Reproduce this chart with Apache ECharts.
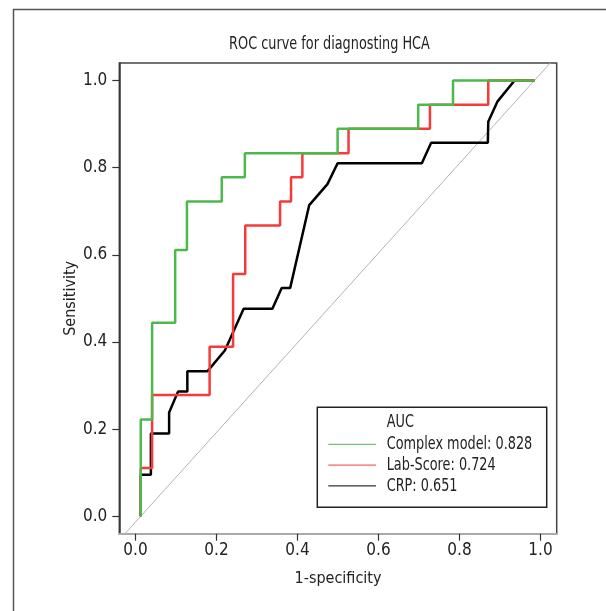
<!DOCTYPE html>
<html>
<head>
<meta charset="utf-8">
<script src="https://cdn.jsdelivr.net/npm/echarts@6/dist/echarts.min.js"></script>
<style>
  html, body { margin: 0; padding: 0; background: #fff; }
  #chart { width: 606px; height: 611px; }
</style>
</head>
<body>
<div id="chart"></div>
<script>
const FONT = "'DejaVu Sans Condensed', 'Liberation Sans', sans-serif";

const titleText = "ROC curve for diagnosting HCA";
const tickValues = [0, 0.2, 0.4, 0.6, 0.8, 1.0];

// ROC points (1-specificity, sensitivity)
const complexFpr = [0.013, 0.013, 0.041, 0.041, 0.098, 0.098, 0.127, 0.127, 0.213, 0.213, 0.270, 0.270, 0.499, 0.499, 0.698, 0.698, 0.784, 0.784, 0.985];
const complexTpr = [0, 0.222, 0.222, 0.444, 0.444, 0.611, 0.611, 0.722, 0.722, 0.778, 0.778, 0.833, 0.833, 0.889, 0.889, 0.944, 0.944, 1, 1];

const labFpr = [0.013, 0.013, 0.041, 0.041, 0.183, 0.183, 0.241, 0.241, 0.271, 0.271, 0.357, 0.357, 0.384, 0.384, 0.412, 0.412, 0.526, 0.526, 0.727, 0.727, 0.871, 0.871, 0.985];
const labTpr = [0, 0.111, 0.111, 0.278, 0.278, 0.389, 0.389, 0.556, 0.556, 0.667, 0.667, 0.722, 0.722, 0.778, 0.778, 0.833, 0.833, 0.889, 0.889, 0.944, 0.944, 1, 1];

const crpFpr = [0.013, 0.013, 0.038, 0.038, 0.083, 0.083, 0.105, 0.128, 0.128, 0.178, 0.221, 0.267, 0.338, 0.361, 0.382, 0.429, 0.474, 0.499, 0.707, 0.730, 0.870, 0.871, 0.894, 0.936, 0.985];
const crpTpr = [0, 0.095, 0.095, 0.190, 0.190, 0.238, 0.286, 0.286, 0.333, 0.333, 0.381, 0.476, 0.476, 0.524, 0.524, 0.714, 0.762, 0.810, 0.810, 0.857, 0.857, 0.905, 0.952, 1, 1];

const refX = [-0.026, 1.024];
const refY = [-0.04, 1.04];

const legendTitle = "AUC";
const seriesNames = ["Complex model: 0.828", "Lab-Score: 0.724", "CRP: 0.651"];
const seriesColors = ["#4cb94c", "#f53a3a", "#000000"];

const pairs = (xs, ys) => xs.map((x, i) => [x, ys[i]]);

const chart = echarts.init(document.getElementById("chart"), null, { renderer: "canvas" });

// condensed look: the reference uses a narrow face, squeeze DejaVu a bit
const SQUEEZE = 0.84;
const textFont = "17px " + FONT;

const axisCommon = {
  type: "value",
  min: -0.04,
  max: 1.04,
  nameLocation: "middle",
  nameMoveOverlap: false,
  nameTextStyle: { fontFamily: FONT, fontSize: 16, color: "#222" },
  splitLine: { show: false },
  axisTick: { show: true, inside: false, length: 7, customValues: tickValues, lineStyle: { color: "#333", width: 1.2 } },
  axisLabel: {
    customValues: tickValues,
    fontFamily: FONT,
    fontSize: 17,
    color: "#222",
    formatter: (v) => v.toFixed(1),
  },
};

// legend drawn as a small boxed key like the original
const legendX = 317.3, legendY = 407.3;
const legendGraphics = [
  { type: "rect", shape: { x: legendX, y: legendY, width: 229.4, height: 100 }, style: { fill: "none", stroke: "#222", lineWidth: 1.5 }, z: 10 },
  { type: "text", x: legendX + 69.4, y: legendY + 15.2, scaleX: SQUEEZE, style: { text: legendTitle, font: textFont, fill: "#222", textVerticalAlign: "middle" }, z: 10 },
];
seriesNames.forEach((name, i) => {
  const cy = legendY + 37 + i * 20.8;
  legendGraphics.push(
    { type: "line", shape: { x1: legendX + 11, y1: cy, x2: legendX + 58.7, y2: cy }, style: { stroke: seriesColors[i], lineWidth: 1 }, z: 10 },
    { type: "text", x: legendX + 69.4, y: cy + 0.4, scaleX: SQUEEZE, style: { text: name, font: textFont, fill: "#222", textVerticalAlign: "middle" }, z: 10 }
  );
});

const option = {
  animation: false,
  backgroundColor: "#fff",
  grid: { left: 119.3, right: 49.3, top: 63, bottom: 77.3, show: true, borderColor: "#444", borderWidth: 1.5, backgroundColor: "transparent" },
  xAxis: {
    ...axisCommon,
    name: "1-specificity",
    nameGap: 37,
    axisLine: { show: true, onZero: false, lineStyle: { color: "#aaa", width: 2 } },
    axisLabel: { ...axisCommon.axisLabel, margin: 8 },
  },
  yAxis: {
    ...axisCommon,
    name: "Sensitivity",
    nameGap: 40,
    axisLine: { show: true, onZero: false, lineStyle: { color: "#333", width: 1.5 } },
    axisLabel: { ...axisCommon.axisLabel, margin: 12 },
  },
  graphic: [
    { type: "rect", left: 11, top: 7, shape: { width: 700, height: 700 }, style: { fill: "none", stroke: "#555", lineWidth: 1.5 }, silent: true },
    { type: "text", x: 329.5, y: 45, scaleX: SQUEEZE, style: { text: titleText, font: textFont, fill: "#222", textAlign: "center", textVerticalAlign: "middle" } },
    ...legendGraphics,
  ],
  series: [
    {
      name: "reference",
      type: "line",
      data: pairs(refX, refY),
      symbol: "none",
      silent: true,
      lineStyle: { color: "#b3b3b3", width: 1 },
      z: 1,
    },
    {
      name: seriesNames[2],
      type: "line",
      data: pairs(crpFpr, crpTpr),
      symbol: "none",
      color: seriesColors[2],
      lineStyle: { color: seriesColors[2], width: 2.5 },
      z: 2,
    },
    {
      name: seriesNames[1],
      type: "line",
      data: pairs(labFpr, labTpr),
      symbol: "none",
      color: seriesColors[1],
      lineStyle: { color: seriesColors[1], width: 2.5 },
      z: 3,
    },
    {
      name: seriesNames[0],
      type: "line",
      data: pairs(complexFpr, complexTpr),
      symbol: "none",
      color: seriesColors[0],
      lineStyle: { color: seriesColors[0], width: 2.5 },
      z: 4,
    },
  ],
};

chart.setOption(option);
</script>
</body>
</html>
